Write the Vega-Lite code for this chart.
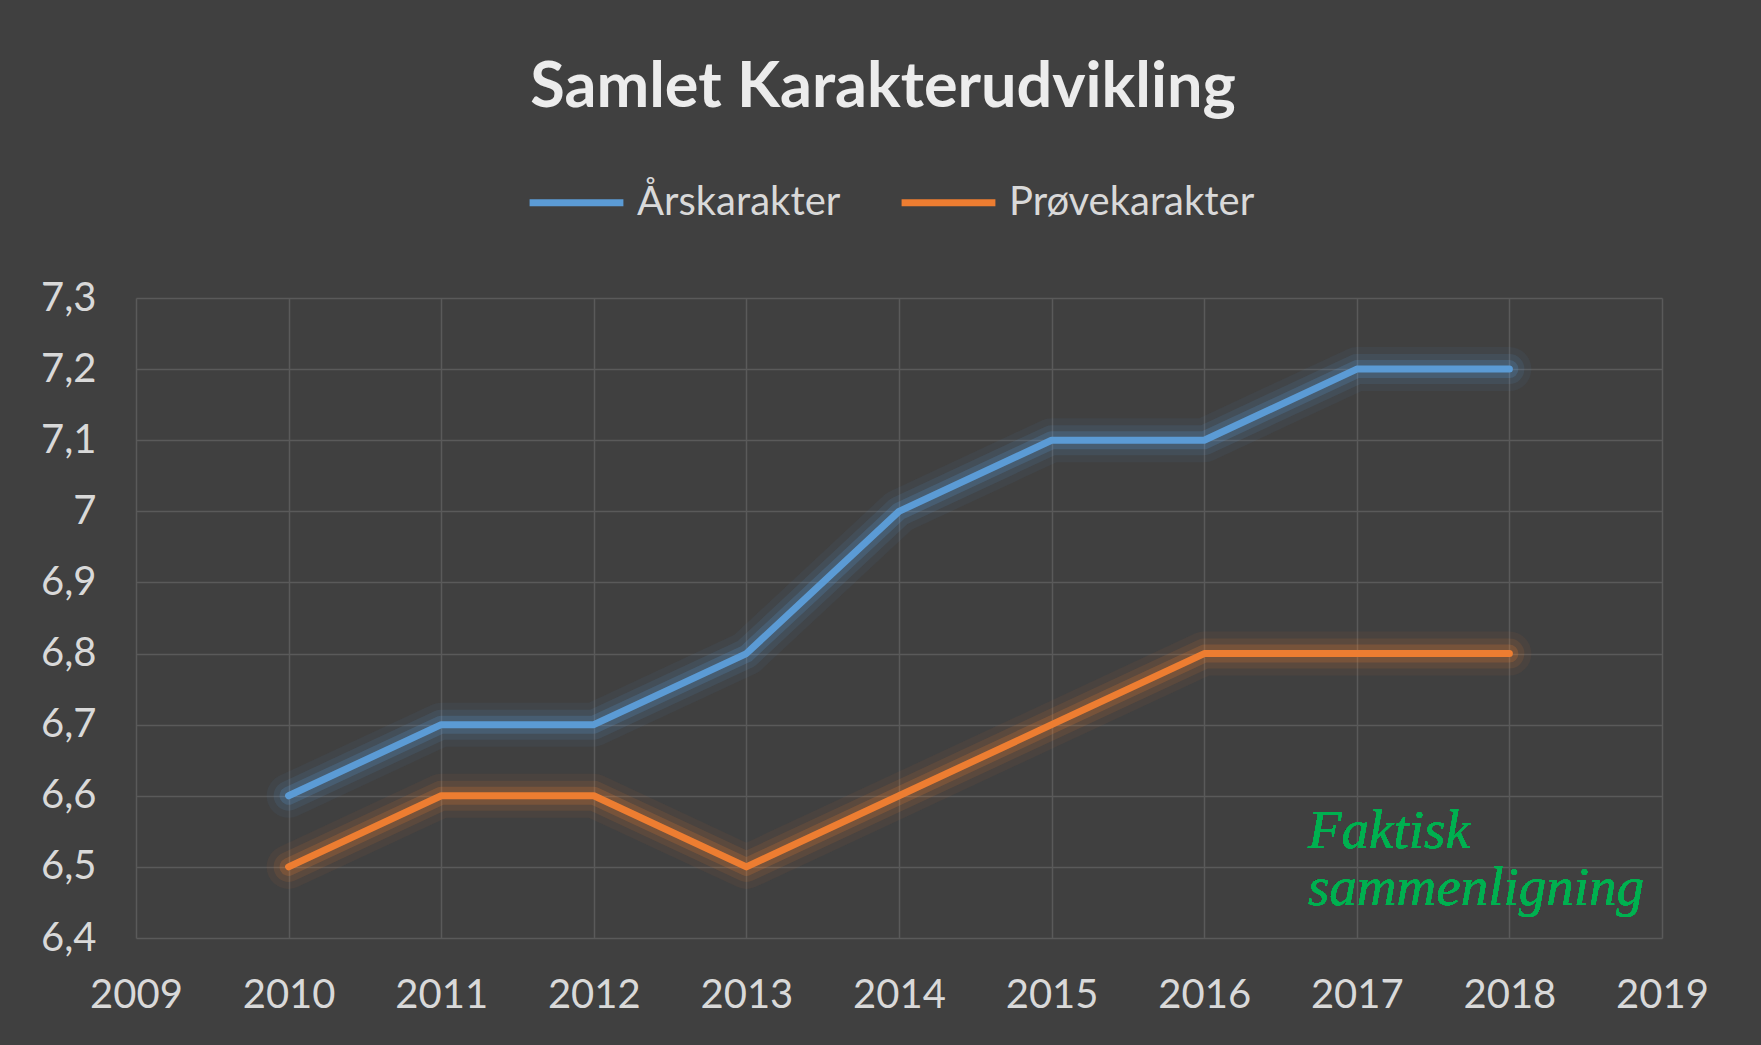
{
  "$schema": "https://vega.github.io/schema/vega-lite/v6.json",
  "autosize": {"type": "none"},
  "width": 1526,
  "height": 640,
  "padding": {"left": 136, "top": 298, "right": 99, "bottom": 107},
  "background": "#404040",
  "config": {
    "font": "Lato",
    "view": {"stroke": null}
  },
  "title": {
    "text": "Samlet Karakterudvikling",
    "font": "Lato",
    "fontSize": 63,
    "fontWeight": "bold",
    "color": "#ececec",
    "anchor": "middle",
    "frame": "group",
    "offset": 32,
    "dx": -16
  },
  "data": {
    "values": [
      {"year": 2010, "serie": "Årskarakter", "value": 6.6},
      {"year": 2011, "serie": "Årskarakter", "value": 6.7},
      {"year": 2012, "serie": "Årskarakter", "value": 6.7},
      {"year": 2013, "serie": "Årskarakter", "value": 6.8},
      {"year": 2014, "serie": "Årskarakter", "value": 7.0},
      {"year": 2015, "serie": "Årskarakter", "value": 7.1},
      {"year": 2016, "serie": "Årskarakter", "value": 7.1},
      {"year": 2017, "serie": "Årskarakter", "value": 7.2},
      {"year": 2018, "serie": "Årskarakter", "value": 7.2},
      {"year": 2010, "serie": "Prøvekarakter", "value": 6.5},
      {"year": 2011, "serie": "Prøvekarakter", "value": 6.6},
      {"year": 2012, "serie": "Prøvekarakter", "value": 6.6},
      {"year": 2013, "serie": "Prøvekarakter", "value": 6.5},
      {"year": 2014, "serie": "Prøvekarakter", "value": 6.6},
      {"year": 2015, "serie": "Prøvekarakter", "value": 6.7},
      {"year": 2016, "serie": "Prøvekarakter", "value": 6.8},
      {"year": 2017, "serie": "Prøvekarakter", "value": 6.8},
      {"year": 2018, "serie": "Prøvekarakter", "value": 6.8}
    ]
  },
  "encoding": {
    "x": {
      "field": "year",
      "type": "quantitative",
      "scale": {"domain": [2009, 2019], "nice": false, "zero": false},
      "axis": {
        "title": null,
        "values": [2009, 2010, 2011, 2012, 2013, 2014, 2015, 2016, 2017, 2018, 2019],
        "format": "d",
        "domain": false,
        "ticks": false,
        "grid": true,
        "gridColor": "#5a5a5a",
        "gridWidth": 1.5,
        "labelColor": "#d9d9d9",
        "labelFont": "Lato",
        "labelFontSize": 40,
        "labelPadding": 37,
        "labelFlush": false
      }
    },
    "y": {
      "field": "value",
      "type": "quantitative",
      "scale": {"domain": [6.4, 7.3], "nice": false, "zero": false},
      "axis": {
        "title": null,
        "values": [6.4, 6.5, 6.6, 6.7, 6.8, 6.9, 7.0, 7.1, 7.2, 7.3],
        "labelExpr": "replace(format(datum.value, '.1~f'), '.', ',')",
        "domain": false,
        "ticks": false,
        "grid": true,
        "gridColor": "#5a5a5a",
        "gridWidth": 1.5,
        "labelColor": "#d9d9d9",
        "labelFont": "Lato",
        "labelFontSize": 40,
        "labelPadding": 40
      }
    },
    "color": {
      "field": "serie",
      "type": "nominal",
      "scale": {"domain": ["Årskarakter", "Prøvekarakter"], "range": ["#5b9bd5", "#ed7d31"]},
      "legend": {
        "title": null,
        "orient": "none",
        "direction": "horizontal",
        "legendX": 390,
        "legendY": -146,
        "symbolType": "stroke",
        "symbolStrokeWidth": 7,
        "symbolSize": 8800,
        "symbolOpacity": 1,
        "labelColor": "#d9d9d9",
        "labelFont": "Lato",
        "labelFontSize": 40,
        "labelOffset": 10,
        "columnPadding": 46,
        "labelLimit": 400
      }
    }
  },
  "layer": [
    {"mark": {"type": "line", "strokeWidth": 44, "opacity": 0.06, "strokeCap": "round", "strokeJoin": "round"}},
    {"mark": {"type": "line", "strokeWidth": 30, "opacity": 0.11, "strokeCap": "round", "strokeJoin": "round"}},
    {"mark": {"type": "line", "strokeWidth": 18, "opacity": 0.2, "strokeCap": "round", "strokeJoin": "round"}},
    {"mark": {"type": "line", "strokeWidth": 7, "strokeCap": "round", "strokeJoin": "round"}},
    {
      "mark": {
        "type": "text",
        "text": ["Faktisk", "sammenligning"],
        "font": "Liberation Serif",
        "fontStyle": "italic",
        "fontSize": 55,
        "lineHeight": 57,
        "color": "#00b050",
        "align": "left",
        "baseline": "alphabetic"
      },
      "encoding": {
        "x": {"datum": 2016.68, "type": "quantitative"},
        "y": {"datum": 6.526, "type": "quantitative"},
        "color": null
      }
    }
  ]
}
